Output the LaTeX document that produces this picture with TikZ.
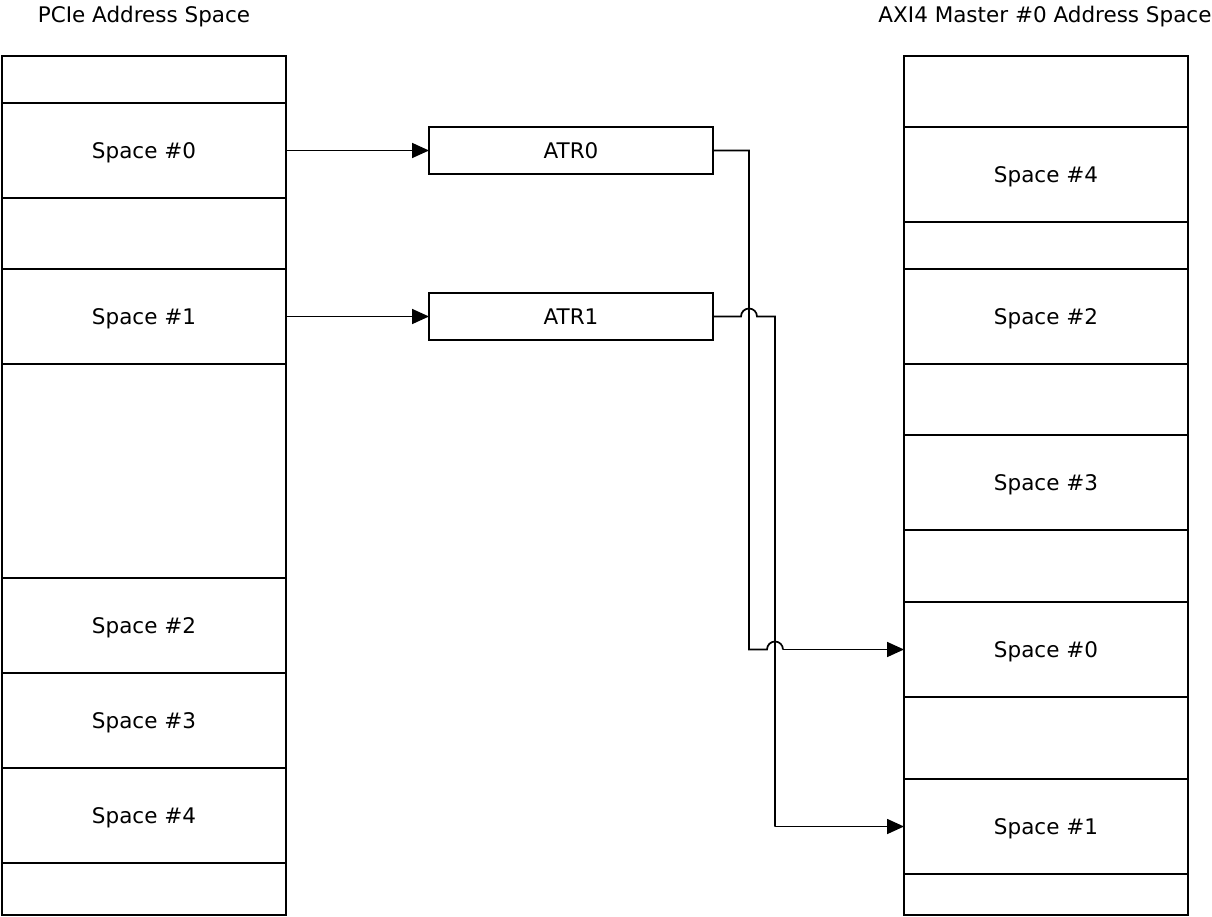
\documentclass[tikz,border=0pt]{standalone}
\usepackage{fontspec}
\setmainfont{DejaVu Sans}
\usetikzlibrary{arrows.meta}
\begin{document}
\begin{tikzpicture}[x=1pt,y=1pt,
  txt/.style={font=\fontsize{21.5}{26}\selectfont, text height=15.7pt, text depth=0pt},
  cell/.style={txt, draw, line width=1.4pt, minimum width=284pt, inner sep=0pt, outer sep=0pt},
  atr/.style={txt, draw, line width=1.4pt, minimum width=284pt, minimum height=47pt, inner sep=0pt, outer sep=0pt},
  title/.style={txt, inner sep=0pt},
  conn/.style={line width=1.7pt, line join=miter},
  arr/.style={line width=1.7pt, -{Triangle[length=17pt,width=15pt]}}]
\useasboundingbox (0,0) rectangle (1212,-917);
% titles
\node[title] (tl) at (144,-14.5) {PCIe Address Space};
\node[title] (tr) at (1045,-14.5) {AXI4 Master \#0 Address Space};
% left column
\node[cell, minimum height=47] (La) at (144,-79.5) {};
\node[cell, minimum height=95] (L0) at (144,-150.5) {Space \#0};
\node[cell, minimum height=71] (Lb) at (144,-233.5) {};
\node[cell, minimum height=95] (L1) at (144,-316.5) {Space \#1};
\node[cell, minimum height=214] (Lc) at (144,-471) {};
\node[cell, minimum height=95] (L2) at (144,-625.5) {Space \#2};
\node[cell, minimum height=95] (L3) at (144,-720.5) {Space \#3};
\node[cell, minimum height=95] (L4) at (144,-815.5) {Space \#4};
\node[cell, minimum height=52] (Ld) at (144,-889) {};
% right column
\node[cell, minimum height=71] (Ra) at (1046,-91.5) {};
\node[cell, minimum height=95] (R4) at (1046,-174.5) {Space \#4};
\node[cell, minimum height=47] (Rb) at (1046,-245.5) {};
\node[cell, minimum height=95] (R2) at (1046,-316.5) {Space \#2};
\node[cell, minimum height=71] (Rc) at (1046,-399.5) {};
\node[cell, minimum height=95] (R3) at (1046,-482.5) {Space \#3};
\node[cell, minimum height=72] (Rd) at (1046,-566) {};
\node[cell, minimum height=95] (R0) at (1046,-649.5) {Space \#0};
\node[cell, minimum height=82] (Re) at (1046,-738) {};
\node[cell, minimum height=95] (R1) at (1046,-826.5) {Space \#1};
\node[cell, minimum height=41] (Rf) at (1046,-894.5) {};
% ATR boxes
\node[atr] (A0) at (571,-150.5) {ATR0};
\node[atr] (A1) at (571,-316.5) {ATR1};
% routing columns
\coordinate (xa) at (749,0);
\coordinate (xb) at (775,0);
% connectors
\draw[arr] (L0.east) -- (A0.west);
\draw[arr] (L1.east) -- (A1.west);
\draw[conn] (A0.east) -- (A0.east -| xa) -- (R0.west -| xa) -- ([xshift=-8pt]R0.west -| xb) arc (180:0:8pt);
\draw[arr] ([xshift=8pt]R0.west -| xb) -- (R0.west);
\draw[conn] (A1.east) -- ([xshift=-8pt]A1.east -| xa) arc (180:0:8pt) -- (A1.east -| xb) -- (R1.west -| xb);
\draw[arr] (R1.west -| xb) -- (R1.west);
\end{tikzpicture}
\end{document}
